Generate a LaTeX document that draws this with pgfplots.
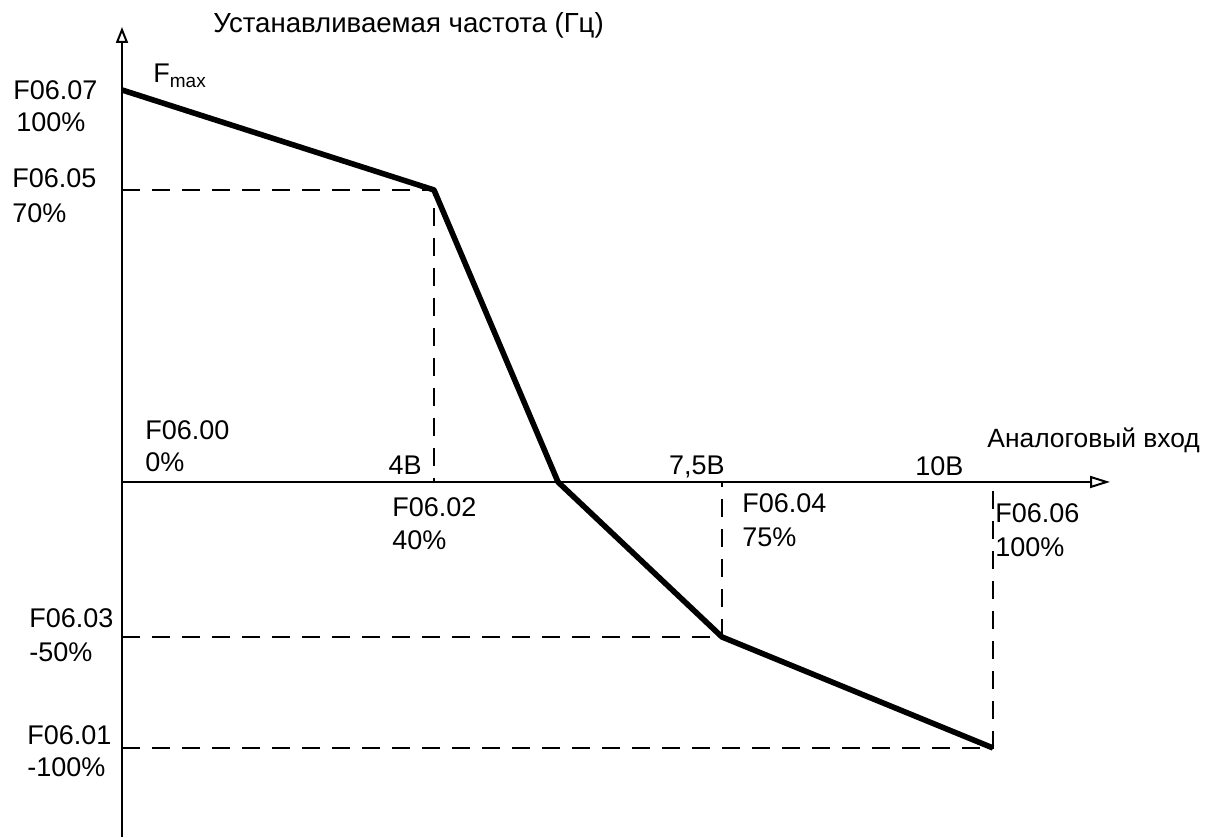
\documentclass[border=0pt]{standalone}
\usepackage{fontspec}
\setmainfont{Liberation Sans}
\usepackage{pgfplots}
\pgfplotsset{compat=1.18}
\usetikzlibrary{arrows.meta}
\begin{document}
\begin{tikzpicture}[every node/.style={font=\fontsize{13.5}{16}\selectfont, inner sep=0pt}]
\begin{axis}[
 scale only axis, width=613.5pt, height=418.5pt,
 xmin=-122, xmax=1105, ymin=-355, ymax=482,
 hide axis, clip=false,
]
\path (axis cs:-122,-355) rectangle (axis cs:1105,482);
% axes
\draw[line width=1pt, -{Triangle[open, length=8pt, width=6pt]}] (axis cs:0,-355) -- (axis cs:0,455);
\draw[line width=1pt, -{Triangle[open, length=10pt, width=6pt]}] (axis cs:0,0) -- (axis cs:988,0);
% dashed guides
\addplot[black, line width=0.9pt, dash pattern=on 9pt off 6pt] coordinates {(0,292) (312,292) (312,0)};
\addplot[black, line width=0.9pt, dash pattern=on 9pt off 6pt] coordinates {(0,-155) (600,-155) (600,0)};
\addplot[black, line width=0.9pt, dash pattern=on 9pt off 6pt] coordinates {(0,-266) (871,-266) (871,0)};
% characteristic
\addplot[black, line width=2.8pt, line join=round] coordinates {(0,392) (312,292) (436,0) (600,-155) (871,-266)};
% labels
\node[anchor=west] at (axis cs:91,457) {\fontsize{13.8}{16}\selectfont Устанавливаемая частота (Гц)};
\node[anchor=base west] at (axis cs:31,399) {\fontsize{13.5}{16}\selectfont F{\fontsize{9.5}{10}\selectfont\raisebox{-0.45ex}{max}}};
\node[anchor=west] at (axis cs:-109,392) {\fontsize{13.5}{16}\selectfont F06.07};
\node[anchor=west] at (axis cs:-106,360) {\fontsize{13.5}{16}\selectfont 100\%};
\node[anchor=west] at (axis cs:-110,304) {\fontsize{13.5}{16}\selectfont F06.05};
\node[anchor=west] at (axis cs:-110,269) {\fontsize{13.5}{16}\selectfont 70\%};
\node[anchor=west] at (axis cs:23,52) {\fontsize{13.5}{16}\selectfont F06.00};
\node[anchor=west] at (axis cs:23,20) {\fontsize{13.5}{16}\selectfont 0\%};
\node[anchor=east] at (axis cs:300,17) {\fontsize{13.5}{16}\selectfont 4В};
\node[anchor=west] at (axis cs:270,-25) {\fontsize{13.5}{16}\selectfont F06.02};
\node[anchor=west] at (axis cs:270,-58) {\fontsize{13.5}{16}\selectfont 40\%};
\node[anchor=east] at (axis cs:603,15) {\fontsize{13.5}{16}\selectfont 7,5В};
\node[anchor=west] at (axis cs:793,16) {\fontsize{13.5}{16}\selectfont 10В};
\node[anchor=west] at (axis cs:865,42) {\fontsize{13.2}{16}\selectfont Аналоговый вход};
\node[anchor=west] at (axis cs:620,-21) {\fontsize{13.5}{16}\selectfont F06.04};
\node[anchor=west] at (axis cs:620,-55) {\fontsize{13.5}{16}\selectfont 75\%};
\node[anchor=west] at (axis cs:873,-31) {\fontsize{13.5}{16}\selectfont F06.06};
\node[anchor=west] at (axis cs:873,-65) {\fontsize{13.5}{16}\selectfont 100\%};
\node[anchor=west] at (axis cs:-93,-136) {\fontsize{13.5}{16}\selectfont F06.03};
\node[anchor=west] at (axis cs:-93,-170) {\fontsize{13.5}{16}\selectfont -50\%};
\node[anchor=west] at (axis cs:-95,-253) {\fontsize{13.5}{16}\selectfont F06.01};
\node[anchor=west] at (axis cs:-95,-285) {\fontsize{13.5}{16}\selectfont -100\%};
\end{axis}
\end{tikzpicture}
\end{document}
